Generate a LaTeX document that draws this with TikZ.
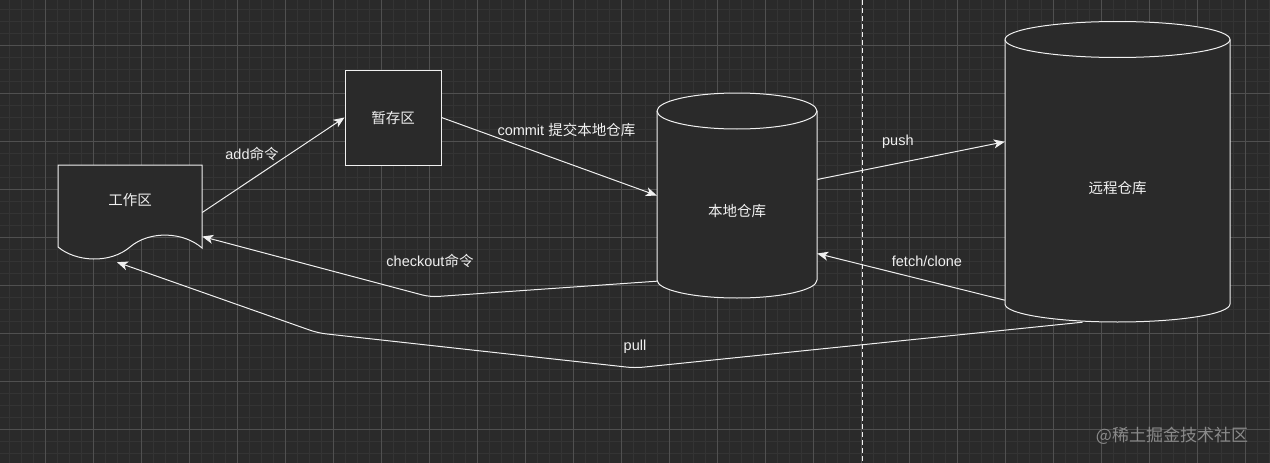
\documentclass[tikz,border=0pt]{standalone}
\usepackage{fontspec}
\setmainfont{Liberation Sans}
\newfontfamily\cjk{Noto Sans CJK SC}
\usepackage{tikz}
\usetikzlibrary{arrows.meta,calc}
\definecolor{canvasbg}{HTML}{2A2A2A}
\definecolor{gridmajor}{HTML}{505050}
\definecolor{gridminor}{HTML}{343434}
\definecolor{inkline}{HTML}{F0F0F0}
\definecolor{wmgray}{HTML}{8A8A8A}
\tikzset{
  shapeline/.style={draw=inkline, line width=1pt, fill=canvasbg},
  stagebox/.style={shapeline, minimum width=96pt, minimum height=95pt, inner sep=0pt},
  flow/.style={draw=inkline, line width=1pt, ->, rounded corners=8pt},
  lbl/.style={text=inkline, inner sep=1pt},
  divider/.style={draw=inkline!85, line width=1pt, dash pattern=on 5pt off 3pt},
}
\newcommand{\gitrepo}[6]{%
  % #1 name, #2 left, #3 right, #4 top rim, #5 bottom rim, #6 text
  \pgfmathsetmacro{\repoRx}{(#3-#2)/2}
  \pgfmathsetmacro{\repoCx}{(#3+#2)/2}
  \pgfmathsetmacro{\repoCy}{(#4+#5)/2}
  \pgfmathsetmacro{\repoW}{#3-#2}
  \pgfmathsetmacro{\repoH}{#5-#4+36}
  \draw[shapeline] (#2,#4) -- (#2,#5)
      arc[start angle=180, end angle=360, x radius=\repoRx pt, y radius=18pt]
      -- (#3,#4)
      arc[start angle=0, end angle=180, x radius=\repoRx pt, y radius=18pt] -- cycle;
  \draw[shapeline, fill=none] (#2,#4)
      arc[start angle=180, end angle=360, x radius=\repoRx pt, y radius=18pt];
  \node[inner sep=0pt, minimum width=\repoW pt, minimum height=\repoH pt,
        label={[lbl, yshift=-16pt]center:{\cjk #6}}] (#1) at (\repoCx,\repoCy) {};
}

\begin{document}
\begin{tikzpicture}[x=1pt, y=-1pt, font=\fontsize{14.5}{17}\selectfont,
    >={Stealth[length=11pt,width=9pt,inset=3pt]}]
    \useasboundingbox (0,0) rectangle (1270,463);
    \fill[canvasbg] (0,0) rectangle (1270,463);
    % grid
    \foreach \gx in {9,21,...,1269} \draw[gridminor, line width=0.8pt] (\gx,0) -- (\gx,463);
    \foreach \gy in {9,21,...,462} \draw[gridminor, line width=0.8pt] (0,\gy) -- (1270,\gy);
    \foreach \gx in {45,93,...,1269} \draw[gridmajor, line width=1pt] (\gx,0) -- (\gx,463);
    \foreach \gy in {45,93,...,462} \draw[gridmajor, line width=1pt] (0,\gy) -- (1270,\gy);
    \draw[divider] (862,0) -- (862,463);

    % working directory
    \draw[shapeline] (58,165) -- (202,165) -- (202,248)
        .. controls (184,232) and (150,230) .. (130,247)
        .. controls (110,264) and (76,262) .. (58,247) -- cycle;
    \node[inner sep=0pt, minimum width=144pt, minimum height=95pt,
          label={[lbl, yshift=12.5pt]center:{\cjk 工作区}}] (work) at (130,212.5) {};
    \node[stagebox, text=inkline] (stage) at (393,117.5) {\cjk 暂存区};
    \gitrepo{local}{657}{817}{111}{280}{本地仓库}
    \gitrepo{remote}{1005}{1230}{39.5}{304}{远程仓库}

    \draw[flow] (work.east) -- node[lbl, pos=.35, yshift=25pt] {add{\cjk 命令}} (stage.west);
    \draw[flow] (stage.east) -- node[lbl, pos=.58, yshift=33pt] {commit {\cjk 提交本地仓库}} (local.west);
    \draw[flow] ($(local.south west)+(0,-17)$)
        -- node[lbl, pos=1, yshift=36pt] {checkout{\cjk 命令}} (430,297)
        -- ($(work.east)+(0,24)$);
    \draw[flow] ($(local.east)+(0,-16)$) -- node[lbl, pos=.43, yshift=22pt] {push} ($(remote.west)+(0,-30)$);
    \draw[flow] ($(remote.south west)+(0,-22)$) -- node[lbl, pos=.415, yshift=20pt] {fetch/clone} ($(local.east)+(0,58)$);
    \draw[flow] ($(remote.south)+(-35,0)$)
        -- node[lbl, pos=1, yshift=21pt] {pull} (635,368)
        -- (318,333) -- ($(work.south)+(-13,2)$);

    \node[text=wmgray, font=\cjk\fontsize{17}{20}\selectfont] (credit) at (1172,436) {@稀土掘金技术社区};
\end{tikzpicture}
\end{document}
